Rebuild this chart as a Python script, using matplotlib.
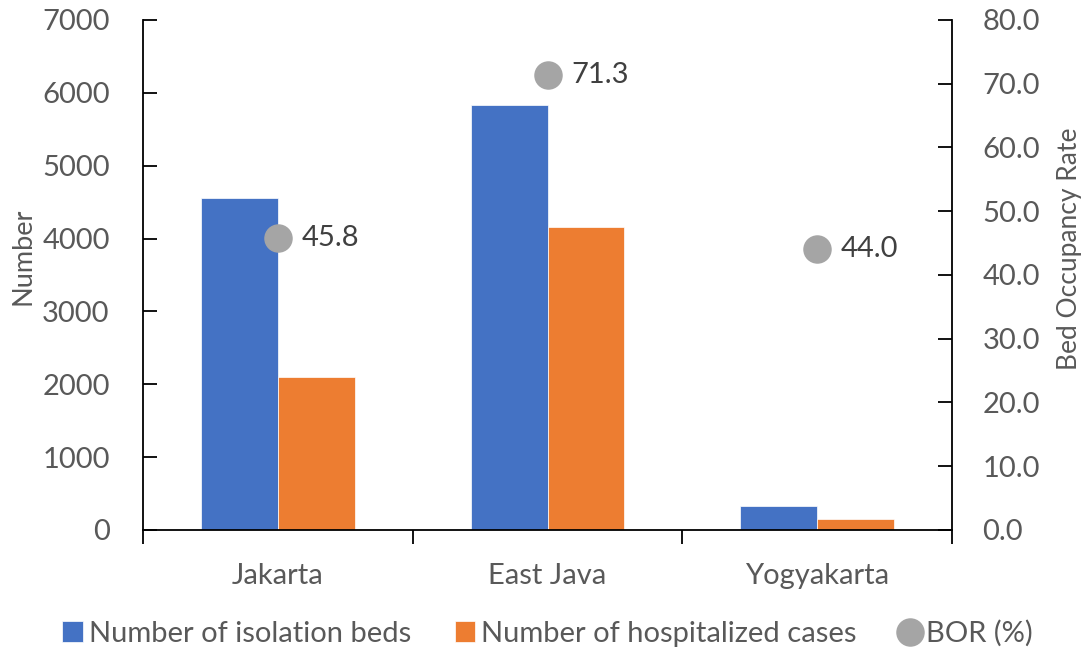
import numpy as np
import matplotlib.pyplot as plt

# data
regions = ['Jakarta', 'East Java', 'Yogyakarta']
isolation_beds = [4560, 5830, 330]
hospitalized = [2095, 4155, 145]
bor = [45.8, 71.3, 44.0]

blue = '#4472C4'
orange = '#ED7D31'
grey = '#A5A5A5'
text_col = '#595959'

plt.rcParams['font.family'] = ['Lato', 'DejaVu Sans']
plt.rcParams['font.size'] = 21

fig = plt.figure(figsize=(10.87, 6.49), dpi=100)
ax = fig.add_axes([0.1316, 0.1834, 0.8758 - 0.1316, 0.9692 - 0.1834])
ax2 = ax.twinx()

x = np.arange(len(regions))
w = 0.285
b1 = ax.bar(x - w / 2, isolation_beds, w, color=blue, edgecolor='white', linewidth=0.5,
            label='Number of isolation beds', zorder=2)
b2 = ax.bar(x + w / 2, hospitalized, w, color=orange, edgecolor='white', linewidth=0.5,
            label='Number of hospitalized cases', zorder=2)

ax2.set_zorder(ax.get_zorder() + 1)
pts, = ax2.plot(x, bor, 'o', color=grey, markersize=19.5, label='BOR (%)')
for xi, v in zip(x, bor):
    ax2.annotate(f'{v:.1f}', (xi, v), xytext=(17, 0), textcoords='offset points',
                 ha='left', va='center', color='#404040', fontsize=21)

ax.set_xlim(-0.5, 2.5)
ax.set_ylim(0, 7000)
ax2.set_ylim(0, 80)
ax.set_yticks(np.arange(0, 7001, 1000))
ax2.set_yticks(np.arange(0, 81, 10))
ax2.set_yticklabels([f'{t:.1f}' for t in np.arange(0, 81, 10)])

# category ticks sit between the groups, labels at the centres
ax.set_xticks([-0.5, 0.5, 1.5, 2.5])
ax.set_xticklabels([])
ax.set_xticks(x, minor=True)
ax.set_xticklabels(regions, minor=True)
ax.tick_params(axis='x', which='major', direction='out', length=10, width=1.3, color='black')
ax.tick_params(axis='x', which='minor', length=0, pad=24, labelcolor=text_col)
ax.tick_params(axis='y', direction='in', length=10, width=1.3, pad=24, labelcolor=text_col)
ax2.tick_params(axis='y', direction='in', length=10, width=1.3, pad=22, labelcolor=text_col)

for a in (ax, ax2):
    a.spines['top'].set_visible(False)
    for s in a.spines.values():
        s.set_linewidth(1.3)
ax2.spines['left'].set_visible(False)
ax2.spines['bottom'].set_visible(False)
ax.spines['right'].set_visible(False)

ax.set_ylabel('Number', color=text_col, fontsize=19.5)
ax.yaxis.set_label_coords(-0.1335, 0.537)
ax2.set_ylabel('Bed Occupancy Rate', color=text_col, fontsize=19)
ax2.yaxis.set_label_coords(1.1296, 0.552)

fig.legend(handles=[b1, b2, pts], loc='center', bbox_to_anchor=(0.504, 0.024), ncol=3,
           frameon=False, handlelength=0.7, handleheight=0.7, handletextpad=0.2,
           columnspacing=1.5, labelcolor=text_col, fontsize=21)

fig.savefig('out.png', dpi=100)
